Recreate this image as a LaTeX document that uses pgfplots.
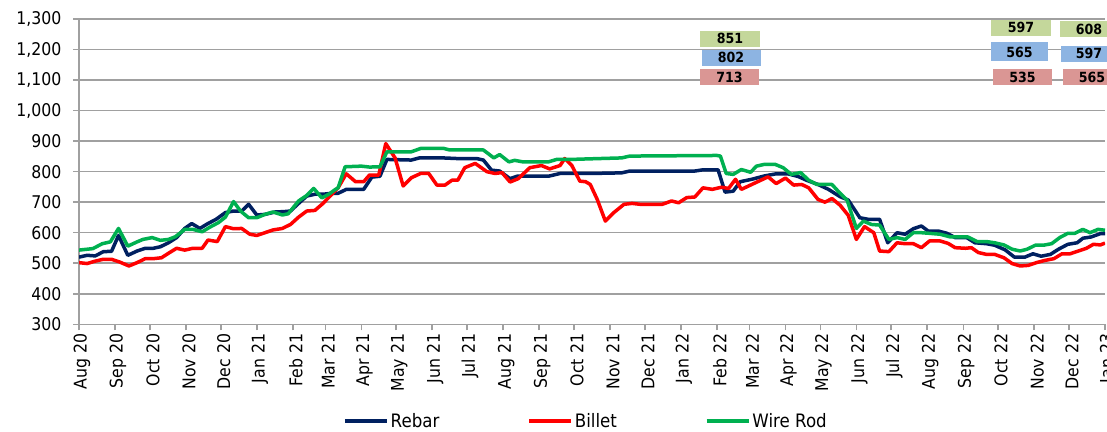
\documentclass[border=0pt]{standalone}
\usepackage{fontspec}
\setmainfont{DejaVu Sans}[FakeStretch=0.9]
\usepackage{pgfplots}
\usepackage{pgfplotstable}
\pgfplotsset{compat=1.18}
\definecolor{gridgray}{RGB}{160,160,160}
\definecolor{rebar}{RGB}{0,32,96}
\definecolor{billet}{RGB}{255,0,0}
\definecolor{wirerod}{RGB}{0,176,80}
\definecolor{boxg}{RGB}{196,215,155}
\definecolor{boxb}{RGB}{141,180,226}
\definecolor{boxr}{RGB}{218,150,148}

\pgfplotstableread{
d v
0 520
7 526
14 524
21 538
28 539
34 591
42 526
50 540
57 549
64 549
70 554
77 567
84 584
91 614
97 630
104 614
111 630
118 644
126 666
133 671
140 671
146 693
153 658
160 660
169 668
176 669
182 671
189 696
196 720
203 726
210 726
217 729
223 729
230 742
245 742
252 782
259 785
265 840
286 838
293 845
313 845
325 843
342 843
348 838
355 805
362 802
371 777
377 785
404 785
414 794
440 794
467 796
474 802
530 802
537 806
550 806
556 733
563 736
569 767
579 775
590 786
600 793
610 793
619 784
626 772
636 758
645 742
655 718
662 707
672 649
679 644
689 644
696 567
704 600
711 595
718 613
725 622
731 605
740 605
747 598
754 584
764 584
771 567
781 564
788 559
797 544
805 520
814 520
821 531
828 523
836 529
843 546
851 562
859 567
864 582
871 586
879 597
883 597
}\rebartab

\pgfplotstableread{
d v
0 502
7 499
14 507
21 513
28 513
35 504
43 491
50 502
57 515
64 515
71 518
78 535
84 549
91 543
98 549
106 549
111 576
119 571
126 620
133 613
140 614
147 595
153 591
160 600
167 609
175 614
182 627
189 651
196 671
203 673
210 696
216 720
223 747
230 793
238 767
245 767
250 789
258 789
264 892
272 845
279 753
286 780
294 794
301 794
308 756
315 756
321 772
326 772
332 813
341 827
351 800
358 794
364 797
371 766
378 777
388 813
398 820
405 809
414 820
418 843
424 821
431 769
436 767
440 758
446 709
453 638
460 665
469 693
476 696
483 693
502 693
510 704
516 698
523 715
530 717
537 747
545 742
553 749
559 745
565 775
570 742
579 758
593 783
600 761
608 779
615 756
622 758
628 747
636 709
642 700
648 712
655 690
662 657
669 578
676 620
684 600
689 540
697 538
704 567
711 564
718 564
725 551
732 573
741 573
748 565
754 551
763 549
768 551
774 535
781 529
788 529
796 518
803 499
810 491
817 493
824 502
831 509
839 515
846 531
853 531
860 540
867 549
873 562
879 560
883 566
}\billettab

\pgfplotstableread{
d v
0 543
12 548
20 564
27 570
34 614
42 556
50 570
55 578
63 584
70 575
77 578
83 587
91 611
98 611
106 603
113 619
120 633
126 651
133 702
139 671
146 649
153 649
160 660
167 668
175 658
180 662
189 704
196 722
202 745
209 714
215 726
220 740
223 747
229 816
243 818
250 815
259 816
265 865
286 865
294 876
314 876
319 871
348 871
357 845
362 856
370 832
375 837
382 832
404 832
411 840
423 840
440 842
467 845
474 851
549 853
552 851
557 794
563 791
570 807
578 798
583 818
590 824
599 824
606 813
613 791
621 797
628 772
635 758
648 758
655 729
661 707
669 614
675 638
682 627
689 625
697 578
704 584
711 578
718 600
725 600
732 598
741 595
750 586
765 586
773 571
781 571
788 567
796 560
803 546
810 540
816 546
823 559
830 559
837 564
844 584
851 598
857 598
864 611
870 600
877 611
883 608
}\wirerodtab

\begin{document}
\begin{tikzpicture}
\begin{axis}[
  at={(79pt,106.7pt)}, anchor=south west,
  scale only axis, width=1026pt, height=305.3pt,
  xmin=0, xmax=883, ymin=300, ymax=1300,
  ytick={300,400,...,1300},
  xtick={0,31,61,92,122,153,184,212,243,273,304,334,365,396,426,457,487,518,549,577,608,638,669,699,730,761,791,822,852,883},
  xticklabels={Aug 20,Sep 20,Oct 20,Nov 20,Dec 20,Jan 21,Feb 21,Mar 21,Apr 21,May 21,Jun 21,Jul 21,Aug 21,Sep 21,Oct 21,Nov 21,Dec 21,Jan 22,Feb 22,Mar 22,Apr 22,May 22,Jun 22,Jul 22,Aug 22,Sep 22,Oct 22,Nov 22,Dec 22,Jan 23},
  axis x line*=bottom, axis y line*=left,
  axis line style={draw=gridgray, line width=1.5pt, -},
  every tick/.style={draw=gridgray, line width=1.5pt},
  tick align=outside, major tick length=6pt,
  ymajorgrids, grid style={draw=gridgray, line width=1.5pt},
  /pgf/number format/assume math mode=true,
  /pgf/number format/1000 sep={,},
  y tick label style={font=\fontsize{17.5}{20}\selectfont, anchor=east, xshift=-8pt},
  x tick label style={font=\fontsize{17.5}{20}\selectfont, rotate=90, anchor=east, yshift=-3pt},
  legend style={at={(0.2573,-0.3167)}, anchor=west, draw=none, fill=none,
    inner sep=0pt, font=\fontsize{18.5}{20}\selectfont,
    nodes={inner xsep=2pt, inner ysep=0pt},
    /tikz/every even column/.append style={column sep=86pt}},
  legend columns=3,
  legend image code/.code={\draw[#1] (0pt,0pt) -- (42pt,0pt);},
]
\addplot[rebar, line width=3.5pt, line join=round] table[x=d,y=v] {\rebartab};
\addlegendentry{Rebar}
\addplot[billet, line width=3.5pt, line join=round] table[x=d,y=v] {\billettab};
\addlegendentry{Billet}
\addplot[wirerod, line width=3.5pt, line join=round] table[x=d,y=v] {\wirerodtab};
\addlegendentry{Wire Rod}
\end{axis}
\tikzset{ann/.style={inner sep=0pt, font=\fontsize{14}{16}\selectfont\bfseries, text=black}}
\node[ann, fill=boxg, minimum width=60pt, minimum height=16pt] at (730pt,392.3pt) {851};
\node[ann, fill=boxb, minimum width=59pt, minimum height=16pt] at (731pt,373.2pt) {802};
\node[ann, fill=boxr, minimum width=59pt, minimum height=16pt] at (729.5pt,353.5pt) {713};
\node[ann, fill=boxg, minimum width=60pt, minimum height=16pt] at (1021pt,403.2pt) {597};
\node[ann, fill=boxb, minimum width=57pt, minimum height=19pt] at (1019.5pt,379pt) {565};
\node[ann, fill=boxr, minimum width=59pt, minimum height=16pt] at (1022.5pt,354pt) {535};
\node[ann, fill=boxg, minimum width=58pt, minimum height=16pt] at (1089pt,401.5pt) {608};
\node[ann, fill=boxb, minimum width=56pt, minimum height=16pt] at (1089pt,377.2pt) {597};
\node[ann, fill=boxr, minimum width=58pt, minimum height=16pt] at (1092pt,353.5pt) {565};
\pgfresetboundingbox
\path (0pt,0pt) rectangle (1107pt,431pt);
\end{tikzpicture}
\end{document}
